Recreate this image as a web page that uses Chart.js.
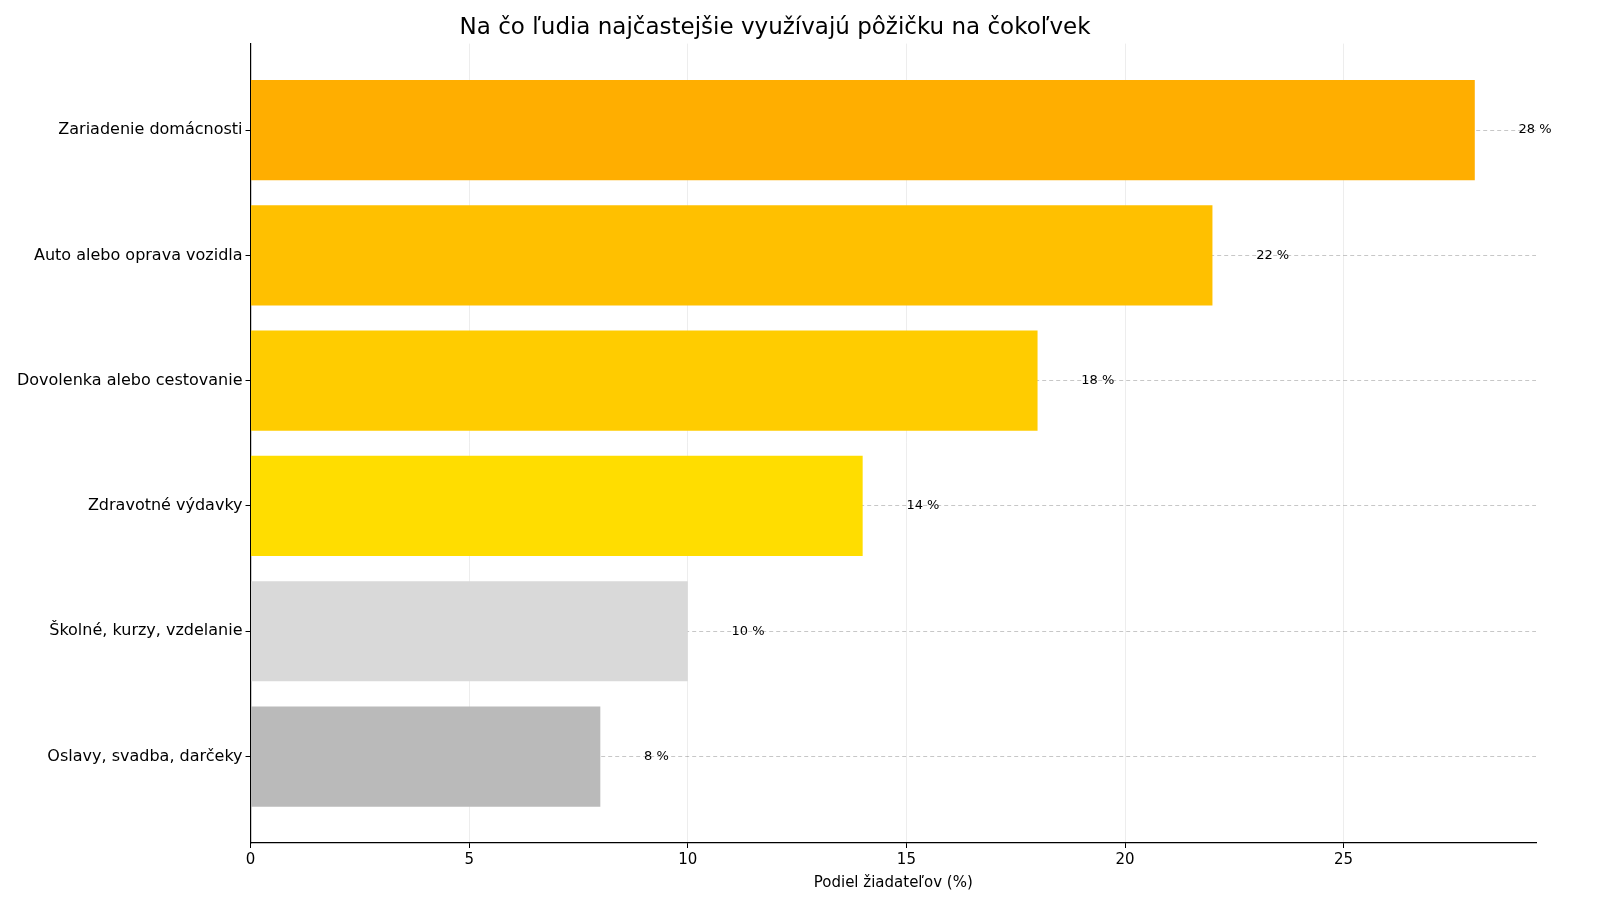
<!DOCTYPE html>
<html><head><meta charset="utf-8">
<script src="https://cdn.jsdelivr.net/npm/chart.js@4"></script>
<style>body{margin:0;background:#fff}#w{width:1600px;height:900px}</style>
</head><body><div id="w"><canvas id="c"></canvas></div>
<script>
const categories=["Zariadenie domácnosti","Auto alebo oprava vozidla","Dovolenka alebo cestovanie","Zdravotné výdavky","Školné, kurzy, vzdelanie","Oslavy, svadba, darčeky"];
const values=[28,22,18,14,10,8];
const colors=["#FFAE00","#FFC000","#FFCC00","#FFDD00","#D9D9D9","#BABABA"];
const xTicks=[0,5,10,15,20,25];
const font='"DejaVu Sans", sans-serif';
const labelPlugin={id:'lbl',afterDatasetsDraw(ch){const c=ch.ctx,x=ch.scales.x,y=ch.scales.y;c.save();c.font='13px '+font;c.fillStyle='#000';c.textBaseline='middle';values.forEach((v,i)=>{c.fillText(v+' %',x.getPixelForValue(v+1),y.getPixelForValue(i));});c.restore();}};
new Chart(document.getElementById('c'),{type:'bar',
data:{datasets:[{data:values.map((v,i)=>({x:v,y:i})),backgroundColor:colors,categoryPercentage:0.8,barPercentage:1}]},
options:{indexAxis:'y',responsive:true,maintainAspectRatio:false,animation:false,
layout:{padding:{left:14,right:64,top:4,bottom:4}},
plugins:{legend:{display:false},tooltip:{enabled:false},
title:{display:true,text:'Na čo ľudia najčastejšie využívajú pôžičku na čokoľvek',font:{family:font,size:23,weight:'normal'},color:'#000',padding:{top:10,bottom:2}}},
scales:{
x:{type:'linear',min:0,max:29.4,afterBuildTicks(a){a.ticks=xTicks.map(v=>({value:v}));},
grid:{color:'rgba(0,0,0,0.07)',tickColor:'#000',tickLength:5},border:{color:'#000',width:1.2},
ticks:{color:'#000',font:{family:font,size:15}},
title:{display:true,text:'Podiel žiadateľov (%)',color:'#000',font:{family:font,size:15},padding:{top:2,bottom:4}}},
y:{type:'linear',reverse:true,offset:false,min:-0.69,max:5.69,afterBuildTicks(a){a.ticks=categories.map((_,i)=>({value:i}));},
ticks:{color:'#000',font:{family:font,size:16},callback:v=>categories[v]},
grid:{offset:false,color:'rgba(0,0,0,0.22)',tickColor:'#000',tickLength:5},border:{color:'#000',width:1.2,dash:[]},
}}},plugins:[labelPlugin,{id:'dash',beforeDraw(ch){ch.options.scales.y.border.dash=[4,3];}}]});
</script></body></html>
